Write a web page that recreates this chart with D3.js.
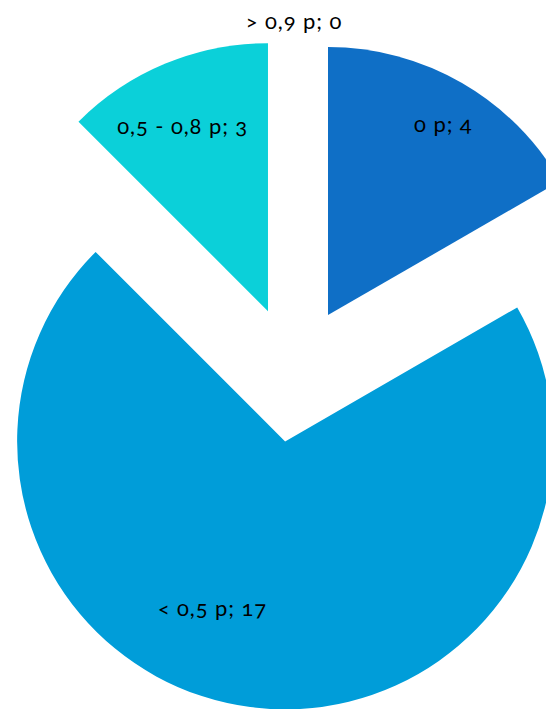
<!DOCTYPE html>
<html>
<head>
<meta charset="utf-8">
<script src="https://cdn.jsdelivr.net/npm/d3@7"></script>
<style>
  html, body { margin: 0; padding: 0; background: #fff; }
  svg { display: block; }
  text {
    font-family: Lato, "Open Sans", sans-serif;
    font-variant-numeric: oldstyle-nums;
    font-feature-settings: "onum" 1;
  }
</style>
</head>
<body>
<svg id="chart" width="546" height="709"></svg>
<script>
// Slices, clockwise from twelve o'clock
const categories = ["0 p", "< 0,5 p", "0,5 - 0,8 p", "> 0,9 p"];
const values = [4, 17, 3, 0];
const colors = ["#0F6FC6", "#009DD9", "#0BD0D9", "#009DD9"];

// Label placement relative to each slice's tip: direction (degrees, clockwise from up) and distance
const labelPlacement = [
  { angle: 31, dist: 224 },
  { angle: 203.7, dist: 181 },
  { angle: -24.7, dist: 204 },
  { angle: 0, dist: 286 }
];

const width = 546, height = 709;
const cx = 294, cy = 374;
const radius = 268;
const explode = 68;

const svg = d3.select("#chart");

const pie = d3.pie().sort(null).value(d => d.value);
const arcs = pie(categories.map((c, i) => ({ name: c, value: values[i], i })));

const arc = d3.arc().innerRadius(0).outerRadius(radius);

const g = svg.append("g").attr("transform", `translate(${cx},${cy})`);

const polar = (deg, r) => {
  const a = deg * Math.PI / 180;
  return [r * Math.sin(a), -r * Math.cos(a)];
};

const slice = g.selectAll("g.slice")
  .data(arcs)
  .join("g")
  .attr("class", "slice")
  .attr("transform", d => {
    const mid = (d.startAngle + d.endAngle) / 2 * 180 / Math.PI;
    const [x, y] = polar(mid, explode);
    return `translate(${x},${y})`;
  });

slice.filter(d => d.value > 0)
  .append("path")
  .attr("d", arc)
  .attr("fill", d => colors[d.data.i]);

slice.append("text")
  .attr("transform", d => {
    const p = labelPlacement[d.data.i];
    const [x, y] = polar(p.angle, p.dist);
    return `translate(${x},${y})`;
  })
  .attr("text-anchor", "middle")
  .attr("dominant-baseline", "central")
  .attr("font-size", 22)
  .attr("letter-spacing", 0.9)
  .attr("fill", "#000")
  .text(d => `${d.data.name}; ${d.data.value}`);
</script>
</body>
</html>
